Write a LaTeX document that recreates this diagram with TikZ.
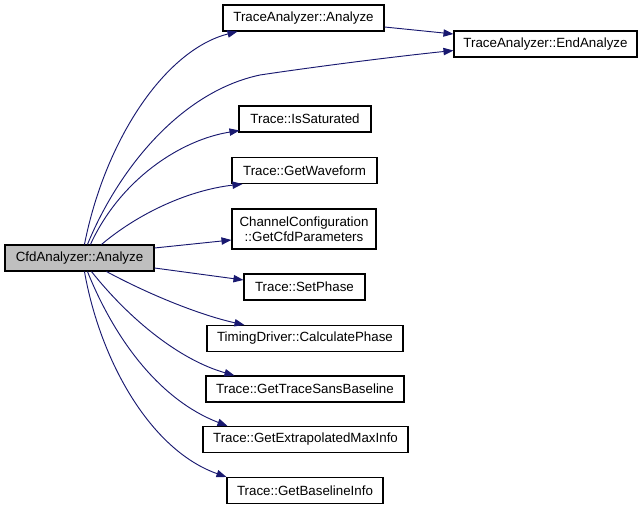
\documentclass[tikz,border=0pt]{standalone}
\usepackage{fontspec}
\setmainfont{Liberation Sans}
\usetikzlibrary{arrows.meta,calc}
\definecolor{edgecol}{HTML}{191970}
\definecolor{cfdfill}{HTML}{BFBFBF}
\begin{document}
\begin{tikzpicture}[x=0.75pt,y=-0.75pt,
  box/.style={draw=black,line width=0.8pt,minimum height=19.5pt,inner sep=0pt,font=\fontsize{10}{11.5}\selectfont,align=center,fill=white},
  edge/.style={draw=edgecol,line width=0.7pt,-{Triangle[length=7.5pt,width=5.5pt]}}]
\useasboundingbox (0,0) rectangle (644,509);
\node[box,fill=cfdfill,minimum width=111.75pt] (cfd) at (79.5,258) {CfdAnalyzer::Analyze};
\node[box,minimum width=120.75pt] (ta) at (303.5,18) {TraceAnalyzer::Analyze};
\node[box,minimum width=137.25pt] (end) at (545.5,44) {TraceAnalyzer::EndAnalyze};
\node[box,minimum width=99pt] (sat) at (305,119) {Trace::IsSaturated};
\node[box,minimum width=108.75pt] (wave) at (304.5,170.5) {Trace::GetWaveform};
\node[box,minimum width=108pt,minimum height=30pt] (chan) at (304,229) {ChannelConfiguration\\::GetCfdParameters};
\node[box,minimum width=90.75pt] (phase) at (304.5,287) {Trace::SetPhase};
\node[box,minimum width=147pt] (calc) at (305,338.5) {TimingDriver::CalculatePhase};
\node[box,minimum width=148.5pt] (sans) at (305,389) {Trace::GetTraceSansBaseline};
\node[box,minimum width=153.75pt] (extr) at (305.5,439.5) {Trace::GetExtrapolatedMaxInfo};
\node[box,minimum width=117pt] (base) at (305,490.5) {Trace::GetBaselineInfo};
% edges
\draw[edge] ($(cfd.north west)+(80,0)$) .. controls (105,140) and (165,50) .. ($(ta.south west)+(15,0)$);
\draw[edge] ($(cfd.north west)+(83,0)$) .. controls (118,170) and (180,92) .. (260,75) .. controls (320,66) and (400,56) .. ($(end.south west)+(0,-7)$);
\draw[edge] ($(ta.east)+(0,9)$) -- ($(end.west)+(0,-10)$);
\draw[edge] ($(cfd.north west)+(86,0)$) .. controls (120,180) and (180,140) .. ($(sat.south west)+(1,-2)$);
\draw[edge] ($(cfd.north west)+(97,0)$) .. controls (140,212) and (190,190) .. ($(wave.south west)+(11,0)$);
\draw[edge] ($(cfd.east)+(0,-10)$) -- ($(chan.west)+(0,11)$);
\draw[edge] ($(cfd.east)+(0,10)$) -- ($(phase.west)+(0,-7)$);
\draw[edge] ($(cfd.south west)+(102,0)$) .. controls (150,295) and (200,315) .. ($(calc.north west)+(38,0)$);
\draw[edge] ($(cfd.south west)+(87,0)$) .. controls (130,320) and (180,360) .. ($(sans.north west)+(29,0)$);
\draw[edge] ($(cfd.south west)+(83,0)$) .. controls (115,340) and (160,400) .. ($(extr.north west)+(25,0)$);
\draw[edge] ($(cfd.south west)+(80,0)$) .. controls (100,360) and (150,450) .. ($(base.north west)+(0,0)$);
\end{tikzpicture}
\end{document}
